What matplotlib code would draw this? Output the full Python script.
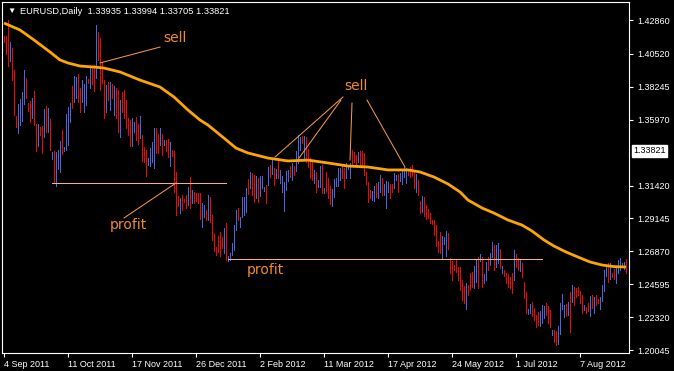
import matplotlib.pyplot as plt
import numpy as np

plt.rcParams['font.family'] = ['Liberation Sans', 'DejaVu Sans']

# daily bars (high / low, u = up bar, d = down bar)
highs = [
    1.4175, 1.4175, 1.4286, 1.4134, 1.4093, 1.3940, 1.3623, 1.3706, 1.3740, 1.3789,
    1.3940, 1.3885, 1.3713, 1.3726, 1.3747, 1.3795, 1.3567, 1.3567, 1.3547, 1.3554,
    1.3671, 1.3692, 1.3678, 1.3602, 1.3374, 1.3381, 1.3374, 1.3388, 1.3450, 1.3526,
    1.3408, 1.3637, 1.3685, 1.3713, 1.3830, 1.3899, 1.3892, 1.3913, 1.3816, 1.3871,
    1.3844, 1.3899, 1.3878, 1.3961, 1.3968, 1.3975, 1.4251, 1.4203, 1.4162, 1.3996,
    1.3871, 1.3837, 1.3858, 1.3858, 1.3844, 1.3830, 1.3816, 1.3802, 1.3733, 1.3789,
    1.3802, 1.3733, 1.3609, 1.3595, 1.3609, 1.3581, 1.3616, 1.3567, 1.3623, 1.3491,
    1.3408, 1.3388, 1.3332, 1.3401, 1.3443, 1.3540, 1.3540, 1.3498, 1.3540, 1.3498,
    1.3457, 1.3457, 1.3464, 1.3443, 1.3388, 1.3381, 1.3236, 1.3070, 1.3056, 1.3077,
    1.3049, 1.3077, 1.3132, 1.3201, 1.3111, 1.3098, 1.3091, 1.3091, 1.3091, 1.3022,
    1.3008, 1.2973, 1.3077, 1.3063, 1.2939, 1.2814, 1.2717, 1.2793, 1.2821, 1.2787,
    1.2849, 1.2883, 1.2655, 1.2676, 1.2745, 1.2869, 1.2973, 1.2987, 1.2925, 1.3063,
    1.3063, 1.3125, 1.3187, 1.3236, 1.3229, 1.3215, 1.3208, 1.3194, 1.3208, 1.3208,
    1.3132, 1.3146, 1.3270, 1.3284, 1.3326, 1.3263, 1.3256, 1.3326, 1.3250, 1.3208,
    1.3167, 1.3243, 1.3250, 1.3277, 1.3298, 1.3277, 1.3381, 1.3491, 1.3478, 1.3484,
    1.3484, 1.3478, 1.3395, 1.3332, 1.3305, 1.3250, 1.3236, 1.3180, 1.3277, 1.3284,
    1.3125, 1.3236, 1.3194, 1.3139, 1.3118, 1.3187, 1.3194, 1.3263, 1.3263, 1.3284,
    1.3263, 1.3298, 1.3270, 1.3298, 1.3388, 1.3374, 1.3353, 1.3374, 1.3381, 1.3381,
    1.3367, 1.3236, 1.3167, 1.3111, 1.3104, 1.3139, 1.3160, 1.3167, 1.3215, 1.3194,
    1.3153, 1.3174, 1.3167, 1.3153, 1.3153, 1.3229, 1.3215, 1.3222, 1.3229, 1.3250,
    1.3270, 1.3263, 1.3250, 1.3270, 1.3284, 1.3250, 1.3222, 1.3180, 1.3035, 1.3070,
    1.3063, 1.3008, 1.2980, 1.2952, 1.2904, 1.2904, 1.2869, 1.2759, 1.2821, 1.2793,
    1.2787, 1.2828, 1.2814, 1.2641, 1.2621, 1.2593, 1.2635, 1.2579, 1.2579, 1.2489,
    1.2448, 1.2469, 1.2455, 1.2538, 1.2545, 1.2586, 1.2628, 1.2648, 1.2669, 1.2648,
    1.2531, 1.2614, 1.2648, 1.2676, 1.2752, 1.2731, 1.2731, 1.2745, 1.2704, 1.2586,
    1.2559, 1.2538, 1.2531, 1.2510, 1.2538, 1.2697, 1.2669, 1.2641, 1.2628, 1.2607,
    1.2476, 1.2407, 1.2289, 1.2324, 1.2337, 1.2296, 1.2248, 1.2268, 1.2275, 1.2317,
    1.2310, 1.2331, 1.2310, 1.2282, 1.2144, 1.2144, 1.2137, 1.2172, 1.2331, 1.2393,
    1.2317, 1.2324, 1.2337, 1.2407, 1.2455, 1.2441, 1.2434, 1.2441, 1.2413, 1.2386,
    1.2317, 1.2303, 1.2331, 1.2379, 1.2386, 1.2372, 1.2386, 1.2358, 1.2372, 1.2455,
    1.2559, 1.2586, 1.2607, 1.2607, 1.2538, 1.2565, 1.2572, 1.2628, 1.2641, 1.2607,
    1.2614, 1.2635,
]
lows = [
    1.4134, 1.4051, 1.3968, 1.4003, 1.3871, 1.3630, 1.3547, 1.3505, 1.3560, 1.3588,
    1.3706, 1.3747, 1.3657, 1.3581, 1.3609, 1.3560, 1.3381, 1.3415, 1.3491, 1.3367,
    1.3478, 1.3512, 1.3512, 1.3388, 1.3326, 1.3160, 1.3139, 1.3256, 1.3236, 1.3360,
    1.3381, 1.3388, 1.3422, 1.3581, 1.3678, 1.3719, 1.3747, 1.3719, 1.3650, 1.3719,
    1.3650, 1.3699, 1.3851, 1.3816, 1.3844, 1.3795, 1.3885, 1.4010, 1.3802, 1.3851,
    1.3609, 1.3650, 1.3733, 1.3664, 1.3747, 1.3630, 1.3609, 1.3512, 1.3478, 1.3650,
    1.3609, 1.3540, 1.3491, 1.3415, 1.3415, 1.3512, 1.3457, 1.3429, 1.3471, 1.3312,
    1.3305, 1.3208, 1.3284, 1.3277, 1.3305, 1.3263, 1.3367, 1.3367, 1.3422, 1.3353,
    1.3422, 1.3381, 1.3339, 1.3277, 1.3346, 1.3098, 1.2939, 1.3001, 1.2952, 1.2973,
    1.3028, 1.2987, 1.3008, 1.2987, 1.3022, 1.3022, 1.3035, 1.3022, 1.2911, 1.2856,
    1.2925, 1.2904, 1.2904, 1.2890, 1.2766, 1.2690, 1.2662, 1.2683, 1.2655, 1.2710,
    1.2676, 1.2628, 1.2621, 1.2628, 1.2662, 1.2697, 1.2835, 1.2904, 1.2856, 1.2925,
    1.2939, 1.2959, 1.3084, 1.3125, 1.3077, 1.3028, 1.3056, 1.3028, 1.3070, 1.3125,
    1.3104, 1.3022, 1.3146, 1.3201, 1.3222, 1.3146, 1.3194, 1.3194, 1.3160, 1.3098,
    1.2966, 1.3111, 1.3174, 1.3201, 1.3180, 1.3215, 1.3243, 1.3298, 1.3388, 1.3436,
    1.3332, 1.3305, 1.3270, 1.3194, 1.3180, 1.3160, 1.3098, 1.3132, 1.3132, 1.3091,
    1.3091, 1.3098, 1.3056, 1.3015, 1.3001, 1.3063, 1.3139, 1.3139, 1.3180, 1.3194,
    1.3125, 1.3194, 1.3256, 1.3194, 1.3277, 1.3305, 1.3284, 1.3305, 1.3284, 1.3270,
    1.3215, 1.3153, 1.3028, 1.3056, 1.3042, 1.3035, 1.3063, 1.3056, 1.3098, 1.3077,
    1.3077, 1.2987, 1.3098, 1.3056, 1.3098, 1.3125, 1.3180, 1.3098, 1.3174, 1.3153,
    1.3201, 1.3160, 1.3215, 1.3201, 1.3208, 1.3125, 1.3098, 1.3077, 1.2952, 1.2959,
    1.2932, 1.2911, 1.2918, 1.2883, 1.2876, 1.2800, 1.2724, 1.2683, 1.2676, 1.2635,
    1.2738, 1.2655, 1.2704, 1.2538, 1.2489, 1.2559, 1.2545, 1.2489, 1.2420, 1.2351,
    1.2331, 1.2289, 1.2386, 1.2420, 1.2441, 1.2434, 1.2476, 1.2434, 1.2621, 1.2441,
    1.2469, 1.2489, 1.2559, 1.2593, 1.2648, 1.2559, 1.2579, 1.2607, 1.2572, 1.2538,
    1.2517, 1.2469, 1.2441, 1.2434, 1.2400, 1.2489, 1.2579, 1.2559, 1.2552, 1.2510,
    1.2365, 1.2261, 1.2255, 1.2261, 1.2241, 1.2213, 1.2165, 1.2178, 1.2172, 1.2192,
    1.2227, 1.2248, 1.2192, 1.2165, 1.2109, 1.2061, 1.2040, 1.2047, 1.2116, 1.2289,
    1.2234, 1.2241, 1.2248, 1.2130, 1.2337, 1.2317, 1.2372, 1.2386, 1.2331, 1.2261,
    1.2282, 1.2261, 1.2275, 1.2241, 1.2296, 1.2261, 1.2317, 1.2331, 1.2289, 1.2344,
    1.2413, 1.2517, 1.2476, 1.2496, 1.2510, 1.2496, 1.2469, 1.2538, 1.2559, 1.2586,
    1.2565, 1.2538,
]
moves = "".join([
    "ddduddduuu", "uddduddudd", "udududuuud", "uuuuduuddu", "uududduddd",
    "dudududdud", "dddduuddud", "dduuuuddud", "udduddddud", "ddududdddu",
    "ududdddddd", "uduuuuuduu", "uududduduu", "ududududuu", "uuududuuud",
    "udddduduud", "uddduuuuud", "duuudddudd", "dddduuduud", "uuudduuduu",
    "uudddduddu", "dddddddddu", "uudddddddd", "duddduudud", "uuduuduudu",
    "ddddduddud", "dduudddduu", "udddudduuu", "udududdddd", "uddududduu",
    "uududduuuu", "ud",
])

# moving average, read at a few bars
ma_bars = [0, 8, 15, 23, 28, 32, 38, 45, 50, 58, 68, 78, 85, 92, 98, 102, 110, 116,
           122, 132, 142, 152, 162, 172, 182, 192, 202, 208, 215, 222, 228, 232, 239,
           245, 252, 259, 264, 270, 275, 281, 287, 293, 299, 305, 311]
ma_vals = [1.4265, 1.4217, 1.4148, 1.4065, 1.4010, 1.3989, 1.3968, 1.3961, 1.3954,
           1.3927, 1.3871, 1.3823, 1.3754, 1.3664, 1.3595, 1.3560, 1.3470, 1.3401,
           1.3367, 1.3332, 1.3312, 1.3318, 1.3298, 1.3277, 1.3270, 1.3250, 1.3250,
           1.3236, 1.3201, 1.3153, 1.3098, 1.3042, 1.2987, 1.2952, 1.2904, 1.2869,
           1.2828, 1.2766, 1.2724, 1.2683, 1.2648, 1.2614, 1.2593, 1.2582, 1.2579]

date_bars = [0, 32, 64, 96, 128, 160, 192, 224, 256, 288]
date_labels = ["4 Sep 2011", "11 Oct 2011", "17 Nov 2011", "26 Dec 2011", "2 Feb 2012",
               "11 Mar 2012", "17 Apr 2012", "24 May 2012", "1 Jul 2012", "7 Aug 2012"]
price_ticks = [1.20045, 1.22320, 1.24595, 1.26870, 1.29145, 1.31420,
               1.35970, 1.38245, 1.40520, 1.42860]
last_price = 1.33821
header = "EURUSD,Daily  1.33935 1.33994 1.33705 1.33821"
profit_levels = [1.3160, 1.2635]

W, H = 674, 371
fig = plt.figure(figsize=(W / 100, H / 100), dpi=100, facecolor='black')
ax = fig.add_axes([2 / W, 1 - 353 / H, 627 / W, 351 / H])
ax.set_facecolor('black')

x = np.arange(len(highs))
hi = np.array(highs)
lo = np.array(lows)
up = np.array([c == 'u' for c in moves])
ax.vlines(x[up], lo[up], hi[up], colors='#4169e1', lw=0.72, antialiased=False)
ax.vlines(x[~up], lo[~up], hi[~up], colors='#ff0000', lw=0.72, antialiased=False)

ax.plot(ma_bars, ma_vals, color='#ffa500', lw=2.0, solid_capstyle='butt')

# annotations
line_c = '#f89a4a'
text_c = '#f08a30'
ax.plot([24, 111], [profit_levels[0]] * 2, color='#f5b27a', lw=0.72)
ax.plot([112, 269], [profit_levels[1]] * 2, color='#f5b27a', lw=0.72)
ax.plot([48, 78], [1.3989, 1.4099], color=line_c, lw=0.72)
ax.plot([169.5, 135.5], [1.3754, 1.3339], color=line_c, lw=0.72)
ax.plot([168.5, 147.5], [1.3733, 1.3332], color=line_c, lw=0.72)
ax.plot([174, 173], [1.3712, 1.3318], color=line_c, lw=0.72)
ax.plot([181.5, 200.5], [1.3733, 1.3270], color=line_c, lw=0.72)
ax.plot([60, 86], [1.2918, 1.3160], color=line_c, lw=0.72)
ax.text(85.5, 1.4162, "sell", color=text_c, fontsize=10, ha='center', va='center',
        family=['DejaVu Sans'])
ax.text(176, 1.3830, "sell", color=text_c, fontsize=10, ha='center', va='center',
        family=['DejaVu Sans'])
ax.text(62, 1.2869, "profit", color=text_c, fontsize=10, ha='center', va='center',
        family=['DejaVu Sans'])
ax.text(130.5, 1.2559, "profit", color=text_c, fontsize=10, ha='center', va='center',
        family=['DejaVu Sans'])

ax.set_xlim(-1, 312.5)
ax.set_ylim(1.19850, 1.44104)

for s in ax.spines.values():
    s.set_color('white')
    s.set_linewidth(0.8)

ax.set_xticks(date_bars)
ax.set_xticklabels(date_labels, ha='left')
ax.yaxis.tick_right()
ax.set_yticks(price_ticks)
ax.set_yticklabels([f"{p:.5f}" for p in price_ticks])
ax.tick_params(axis='x', colors='white', labelsize=6.5, length=3, width=0.8, pad=2)
ax.tick_params(axis='y', colors='white', labelsize=6.5, length=3, width=0.8, pad=3)

ax.annotate(f"{last_price:.5f}", xy=(1, last_price), xycoords=('axes fraction', 'data'),
            xytext=(4, 0), textcoords='offset pixels', ha='left', va='center',
            fontsize=6.5, color='black',
            bbox=dict(boxstyle='square,pad=0.15', fc='white', ec='white'))

fig.text(7 / W, 1 - 11 / H, "\u25bc", color='white', fontsize=6, ha='left', va='center')
fig.text(20 / W, 1 - 11 / H, header, color='white', fontsize=6.7, ha='left', va='center')

fig.savefig('out.png', dpi=100, facecolor='black')
